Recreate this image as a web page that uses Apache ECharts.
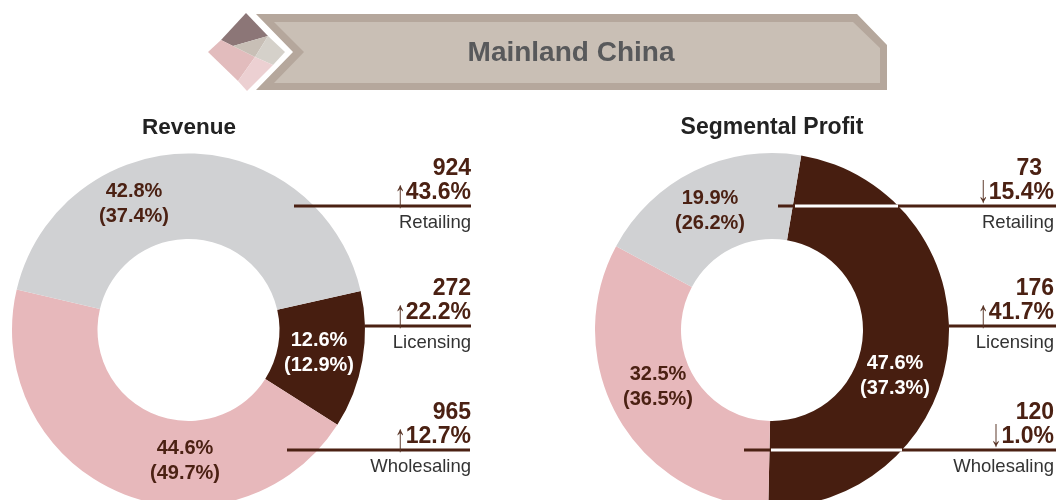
<!DOCTYPE html>
<html><head><meta charset="utf-8">
<style>html,body{margin:0;padding:0;background:#fff}#c{width:1056px;height:500px}</style>
<script src="https://cdn.jsdelivr.net/npm/echarts@6/dist/echarts.min.js"></script></head>
<body><div id="c"></div><script>
const segments = ['Retailing','Licensing','Wholesaling'];
const revenueValues = [924,272,965];
const revenueChange = ['↑43.6%','↑22.2%','↑12.7%'];
const revenueLabels = [['42.8%','(37.4%)'],['12.6%','(12.9%)'],['44.6%','(49.7%)']];
const profitValues = [73,176,120];
const profitChange = ['↓15.4%','↑41.7%','↓1.0%'];
const profitLabels = [['19.9%','(26.2%)'],['47.6%','(37.3%)'],['32.5%','(36.5%)']];
const pieTitles = ['Revenue','Segmental Profit'];
const bannerTitle = 'Mainland China';
const colors = {Retailing:'#d0d1d3',Licensing:'#471e10',Wholesaling:'#e7b8bb'};
const FONT = 'Liberation Sans';
const BROWN = '#4b2113', GREY='#333333', TITLE='#222222';
const order = [1,2,0];
function pie(vals,cx,start,r){return {type:'pie',center:[cx,330],radius:[91,r],startAngle:start,clockwise:true,silent:true,
  label:{show:false},labelLine:{show:false},itemStyle:{borderWidth:0},
  data:order.map(i=>({name:segments[i],value:vals[i],itemStyle:{color:colors[segments[i]]}}))};}
const g=[];
function poly(pts,fill){g.push({type:'polygon',shape:{points:pts},style:{fill},z:1});}
function text(x,y,t,o){g.push({type:'text',x,y,z:5,style:Object.assign({text:t,fontFamily:FONT,fontWeight:'bold',fontSize:22,fill:BROWN,align:'center',verticalAlign:'middle'},o)});}
function line(x1,x2,y,c,h){g.push({type:'rect',shape:{x:x1,y:y-h/2,width:x2-x1,height:h},style:{fill:c},z:4});}
// banner
poly([[256,14],[857,14],[887,45],[887,90],[256,90],[293,52]],'#b5a79c');
poly([[274,22],[853,22],[880,48],[880,83],[274,83],[304,52]],'#c9bfb5');
// diamond
poly([[246,13],[268,36],[233,46],[221,40]],'#8c7677');
poly([[208,52],[221,40],[255,57],[238,81]],'#e2bcbd');
poly([[233,46],[268,36],[255,57]],'#c8bfb6');
poly([[268,36],[285,52],[273,65],[255,57]],'#d5d1ca');
poly([[255,57],[273,65],[247,91],[238,81]],'#ecd0d2');
text(571,53,bannerTitle,{fontSize:28,fill:'#58595b'});
text(189,128,pieTitles[0],{fill:TITLE,fontSize:22.5});
text(772,128,pieTitles[1],{fill:TITLE,fontSize:23});
// slice labels
function sliceLabel(lbl,x,y,fill){text(x,y-12,lbl[0],{fill,fontSize:20});text(x,y+13,lbl[1],{fill,fontSize:20});}
sliceLabel(revenueLabels[0],134,203,BROWN);
sliceLabel(revenueLabels[1],319,352,'#fff');
sliceLabel(revenueLabels[2],185,460,BROWN);
sliceLabel(profitLabels[0],710,210,BROWN);
sliceLabel(profitLabels[1],895,375,'#fff');
sliceLabel(profitLabels[2],658,386,BROWN);
// callouts
const ys=[206,326,450];
const measure=document.createElement('canvas').getContext('2d');
measure.font='bold 23px "Liberation Sans"';
function callout(i,vals,ch,xr,xv){
  const pct=ch[i].slice(1), w=measure.measureText(pct).width, arrow=ch[i].slice(0,1);
  text(xv,ys[i]-37,String(vals[i]),{align:'right',fontSize:23});
  text(xr,ys[i]-13,pct,{align:'right',fontSize:23});
  g.push({type:'text',x:xr-w-5.5,y:ys[i]-(arrow==='↓'?15:10),scaleY:1.7,z:5,style:{text:arrow,fontFamily:FONT,fontSize:23,fill:'#5a3628',align:'center',verticalAlign:'middle'}});
  text(xr,ys[i]+17,segments[i],{align:'right',fontWeight:'normal',fontSize:18.5,fill:GREY});}
[0,1,2].forEach(i=>{callout(i,revenueValues,revenueChange,471,471);callout(i,profitValues,profitChange,1054,i==0?1042:1054);});
line(294,471,206,BROWN,3);line(365,471,326,BROWN,3);line(287,470,450,BROWN,3);
line(778,1056,206,BROWN,3);line(949,1056,326,BROWN,3);line(744,1056,450,BROWN,3);
line(795,898,206,'#fff',3);line(771,902,450,'#fff',3);
const chart=echarts.init(document.getElementById('c'),null,{renderer:'canvas'});
chart.setOption({animation:false,series:[pie(revenueValues,188.5,12.8,176.5),pie(profitValues,772,80.5,177)],graphic:{elements:g}});
</script></body></html>
